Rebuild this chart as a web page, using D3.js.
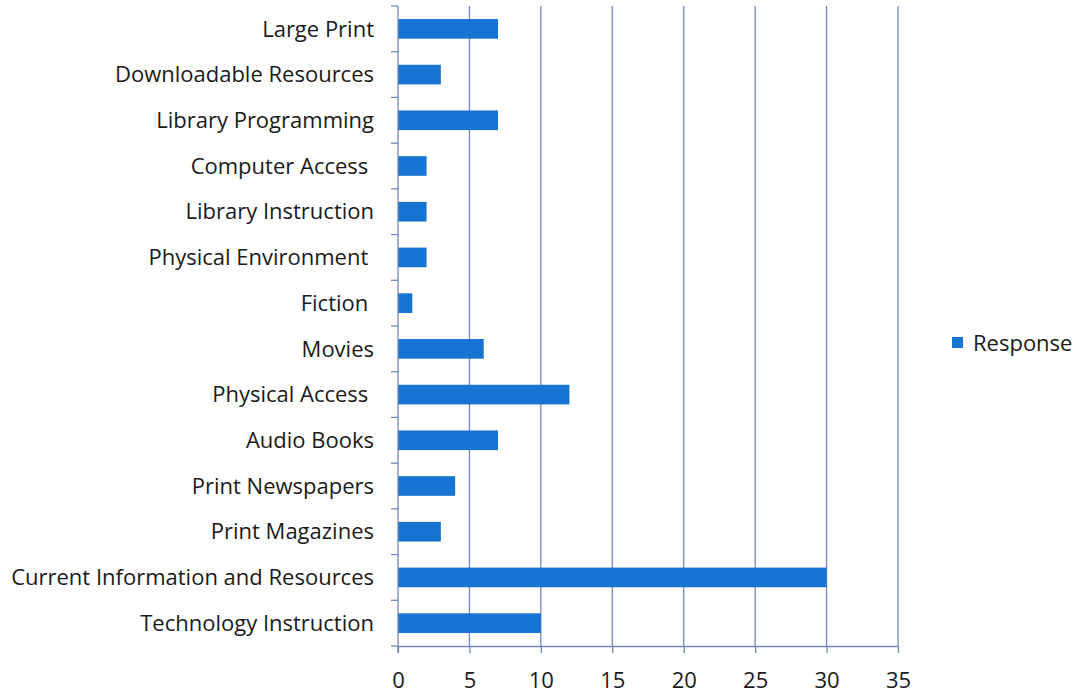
<!DOCTYPE html>
<html>
<head>
<meta charset="utf-8">
<script src="https://cdn.jsdelivr.net/npm/d3@7"></script>
<style>
  body { margin: 0; background: #fff; }
  text { font-family: "Open Sans", "Noto Sans", sans-serif; fill: #1a1a1a; white-space: pre; }
</style>
</head>
<body>
<div id="chart"></div>
<script>
// categories top to bottom, as in the picture (some source labels carry a trailing space)
const categories = ["Large Print", "Downloadable Resources", "Library Programming", "Computer Access ",
  "Library Instruction", "Physical Environment ", "Fiction ", "Movies", "Physical Access ",
  "Audio Books", "Print Newspapers", "Print Magazines", "Current Information and Resources",
  "Technology Instruction"];
const responses = [7, 3, 7, 2, 2, 2, 1, 6, 12, 7, 4, 3, 30, 10];
const xTicks = [0, 5, 10, 15, 20, 25, 30, 35];
const seriesName = "Response";

const width = 1076, height = 694;
const margin = { top: 6, right: 178, bottom: 48, left: 398 };

const svg = d3.select("#chart").append("svg")
  .attr("width", width)
  .attr("height", height);

const x = d3.scaleLinear()
  .domain([0, 35])
  .range([margin.left, width - margin.right]);

const y = d3.scaleBand()
  .domain(categories)
  .range([margin.top, height - margin.bottom])
  .paddingInner(0.57)
  .paddingOuter(0.285);

const lineColor = "#7488b6";

// vertical gridlines
svg.append("g")
  .selectAll("line")
  .data(xTicks.slice(1))
  .enter()
  .append("line")
  .attr("x1", d => x(d)).attr("x2", d => x(d))
  .attr("y1", margin.top).attr("y2", height - margin.bottom)
  .attr("stroke", lineColor)
  .attr("stroke-width", 1.3);

// bars
svg.append("g")
  .selectAll("rect")
  .data(categories)
  .enter()
  .append("rect")
  .attr("x", x(0))
  .attr("y", d => y(d))
  .attr("width", (d, i) => x(responses[i]) - x(0))
  .attr("height", y.bandwidth())
  .attr("fill", "#1874d2");

// x axis
const xAxis = svg.append("g")
  .attr("transform", `translate(0,${height - margin.bottom})`)
  .call(d3.axisBottom(x).tickValues(xTicks).tickSize(7).tickPadding(19).tickSizeOuter(0));
xAxis.select(".domain").attr("stroke", lineColor).attr("stroke-width", 1.3);
xAxis.selectAll(".tick line").attr("stroke", lineColor).attr("stroke-width", 1.3);
xAxis.selectAll(".tick text").style("font-size", "22px");

// y axis: ticks at band boundaries, labels at band centres
const bounds = d3.range(categories.length + 1).map(i => margin.top + i * ((height - margin.bottom - margin.top) / categories.length));
const yAxis = svg.append("g");
yAxis.append("line")
  .attr("x1", x(0)).attr("x2", x(0))
  .attr("y1", margin.top).attr("y2", height - margin.bottom + 7)
  .attr("stroke", lineColor).attr("stroke-width", 1.3);
yAxis.selectAll(".btick")
  .data(bounds)
  .enter()
  .append("line")
  .attr("x1", x(0) - 7).attr("x2", x(0))
  .attr("y1", d => d).attr("y2", d => d)
  .attr("stroke", lineColor).attr("stroke-width", 1.3);
yAxis.selectAll(".label")
  .data(categories)
  .enter()
  .append("text")
  .attr("x", 374)
  .attr("y", d => y(d) + y.bandwidth() / 2)
  .attr("dy", "0.35em")
  .attr("text-anchor", "end")
  .style("font-size", "22px")
  .text(d => d);

// legend
const legend = svg.append("g").attr("transform", "translate(952,337)");
legend.append("rect").attr("width", 11).attr("height", 11).attr("fill", "#1874d2");
legend.append("text").attr("x", 21).attr("y", 6).attr("dy", "0.35em")
  .style("font-size", "22px").text(seriesName);
</script>
</body>
</html>
